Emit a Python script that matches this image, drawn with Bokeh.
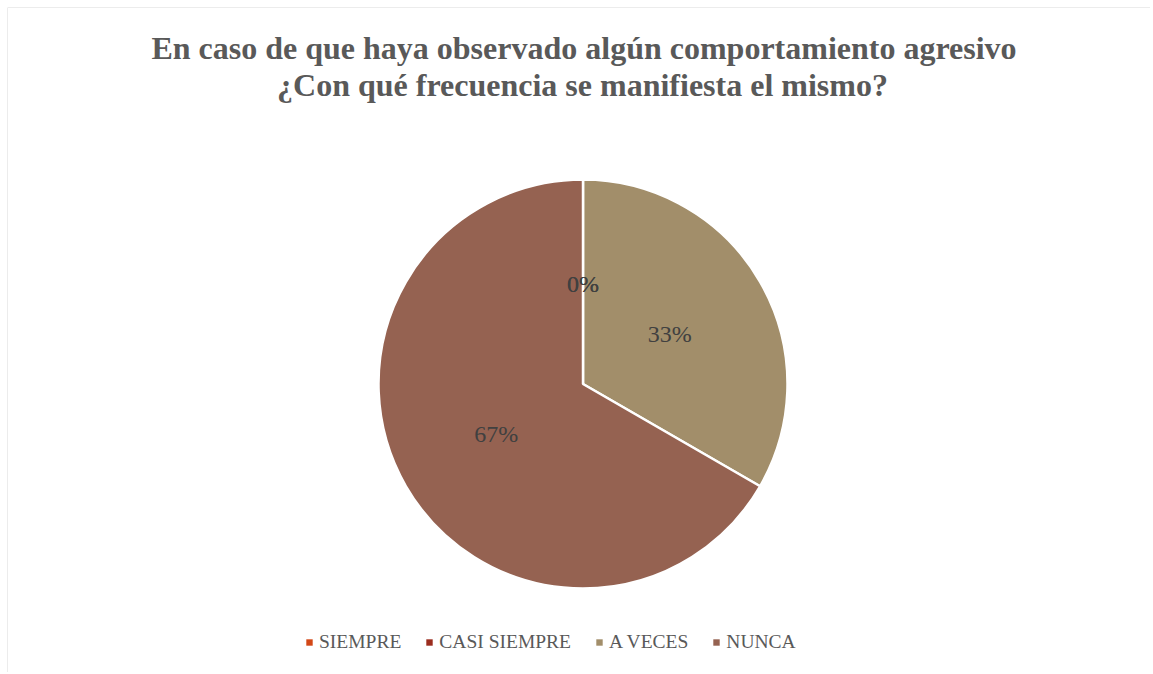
import math
from bokeh.plotting import figure
from bokeh.models import ColumnDataSource, Range1d, Legend, LegendItem, Span
from bokeh.core.properties import value
from bokeh.embed import file_html
from bokeh.resources import INLINE

categories = ["SIEMPRE", "CASI SIEMPRE", "A VECES", "NUNCA"]
values = [0, 0, 1, 2]
colors = ["#D34817", "#9B2D1F", "#A28E6A", "#956251"]
title_lines = ["En caso de que haya observado algún comportamiento agresivo",
               "¿Con qué frecuencia se manifiesta el mismo?"]

W, H = 1150, 672
ML, MT = 7, 7
FW, FH = W - ML, H - MT
p = figure(width=W, height=H, output_backend="svg", toolbar_location=None,
           x_range=Range1d(0, FW), y_range=Range1d(0, FH),
           min_border_left=ML, min_border_top=MT, min_border_right=0,
           min_border_bottom=0)
p.axis.visible = False
p.grid.visible = False
p.outline_line_color = None
p.background_fill_color = "white"
p.border_fill_color = "white"

# chart-area border (left and top visible in reference)
p.add_layout(Span(location=0, dimension="height", line_color="#D9D9D9", line_width=1))
p.add_layout(Span(location=FH, dimension="width", line_color="#D9D9D9", line_width=1))

cx, cy, r = 575.5, FH - 376.5, 204.5
total = sum(values)
starts, ends, lx, ly, labels = [], [], [], [], []
cum = 0
for v in values:
    a0 = math.pi / 2 - 2 * math.pi * cum / total
    cum += v
    a1 = math.pi / 2 - 2 * math.pi * cum / total
    starts.append(a0)
    ends.append(a1)
    mid = (a0 + a1) / 2
    lx.append(cx + 0.49 * r * math.cos(mid))
    ly.append(cy + 0.49 * r * math.sin(mid))
    labels.append(f"{round(100 * v / total)}%")

src = ColumnDataSource(dict(cat=categories, val=values, start=starts, end=ends,
                            color=colors, lx=lx, ly=ly, label=labels))
nz = ColumnDataSource(dict(
    start=[s for s, v in zip(starts, values) if v > 0],
    end=[e for e, v in zip(ends, values) if v > 0],
    color=[c for c, v in zip(colors, values) if v > 0]))

p.wedge(x=cx, y=cy, radius=r, start_angle="start", end_angle="end",
        direction="clock", fill_color="color", line_color="white",
        line_width=2.5, source=nz)

# legend proxy renderer (off-screen squares carrying category colours)
leg_r = p.rect(x=[-100] * 4, y=[-100] * 4, width=1, height=1,
               fill_color=colors, line_color=None)

# data labels
p.text(x="lx", y="ly", text="label", source=src, text_align="center",
       text_baseline="middle", text_font=value("Liberation Serif"),
       text_font_size="24px", text_color="#404040")

# title
title_x = [576.5, 575.0]
for i, t in enumerate(title_lines):
    p.text(x=[title_x[i]], y=[FH - 40 - i * 37], text=[t], text_align="center",
           text_baseline="middle", text_font=value("Liberation Serif"),
           text_font_style="bold", text_font_size="32px", text_color="#595959")

items = [LegendItem(label=c, renderers=[leg_r], index=i) for i, c in enumerate(categories)]
legend = Legend(items=items, orientation="horizontal", location=(298, 19),
                glyph_width=8, glyph_height=8, label_standoff=6, spacing=24,
                label_text_font="Liberation Serif", label_text_font_size="19.5px",
                label_text_color="#595959", border_line_color=None,
                background_fill_alpha=0, padding=0, margin=0)
p.add_layout(legend)

open("out.html", "w").write(file_html(p, INLINE))
